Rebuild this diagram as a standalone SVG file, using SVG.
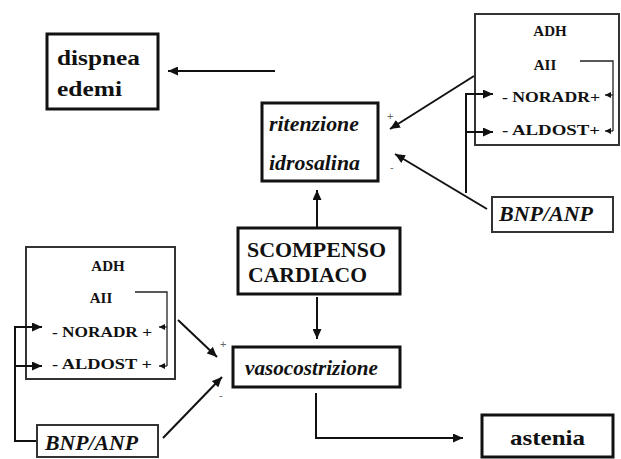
<svg xmlns="http://www.w3.org/2000/svg" width="621" height="459" viewBox="0 0 621 459">
<defs>
<marker id="ah" markerUnits="userSpaceOnUse" markerWidth="11" markerHeight="9" refX="10" refY="4.5" orient="auto">
<path d="M0,0 L10,4.5 L0,9 z" fill="#111"/>
</marker>
<marker id="ahs" markerUnits="userSpaceOnUse" markerWidth="7" markerHeight="6" refX="6" refY="3" orient="auto">
<path d="M0,0 L6,3 L0,6 z" fill="#111"/>
</marker>
</defs>
<style>
.box{fill:#fff;stroke:#111;stroke-width:3}
.thin{fill:#fff;stroke:#333;stroke-width:2}
.t{font-family:"Liberation Serif",serif;font-weight:bold;font-size:22px;fill:#111}
.ti{font-family:"Liberation Serif",serif;font-weight:bold;font-style:italic;font-size:22px;fill:#111}
.s{font-family:"Liberation Serif",serif;font-weight:bold;font-size:15px;fill:#111}
.sign{font-family:"Liberation Sans",sans-serif;font-size:11px;fill:#666}
.c{fill:none;stroke:#111;stroke-width:2}
.cs{fill:none;stroke:#222;stroke-width:1.3}
</style>
<rect width="621" height="459" fill="#fff"/>

<g id="connectors">
<line class="c" x1="275" y1="71" x2="168" y2="71" marker-end="url(#ah)"/>
<line class="c" x1="317" y1="228" x2="317" y2="190" marker-end="url(#ah)"/>
<line class="c" x1="317" y1="297" x2="317" y2="339" marker-end="url(#ah)"/>
<path class="c" d="M316,393 V438 H463" marker-end="url(#ah)"/>
<line class="c" x1="474" y1="76" x2="390" y2="129" marker-end="url(#ah)"/>
<line class="c" x1="487" y1="209" x2="395" y2="154" marker-end="url(#ah)"/>
<line class="c" x1="178" y1="320" x2="217" y2="357" marker-end="url(#ah)"/>
<line class="c" x1="163" y1="438" x2="222" y2="377" marker-end="url(#ah)"/>
</g>

<g id="dispnea">
<rect class="box" x="47" y="34" width="111" height="75"/>
<text class="t" x="57" y="65" textLength="83" lengthAdjust="spacingAndGlyphs">dispnea</text>
<text class="t" x="57" y="96" textLength="65" lengthAdjust="spacingAndGlyphs">edemi</text>
</g>

<g id="ritenzione">
<rect class="box" x="262" y="103" width="116" height="78"/>
<text class="ti" x="269" y="131" textLength="90" lengthAdjust="spacingAndGlyphs">ritenzione</text>
<text class="ti" x="269" y="170" textLength="91" lengthAdjust="spacingAndGlyphs">idrosalina</text>
</g>

<g id="ormoni-dx">
<rect class="thin" x="475" y="14" width="144" height="131"/>
<text class="s" x="550" y="36" text-anchor="middle">ADH</text>
<text class="s" x="545" y="70" text-anchor="middle">AII</text>
<text class="s" x="502" y="102" textLength="98" lengthAdjust="spacingAndGlyphs">- NORADR+</text>
<text class="s" x="502" y="135" textLength="98" lengthAdjust="spacingAndGlyphs">- ALDOST+</text>
<path class="cs" d="M580,61 H613 V131"/>
<line class="cs" x1="613" y1="95" x2="605" y2="95" marker-end="url(#ahs)"/>
<line class="cs" x1="613" y1="131" x2="605" y2="131" marker-end="url(#ahs)"/>
<path class="c" d="M466,193 V94 H493" marker-end="url(#ah)"/>
<line class="c" x1="466" y1="132" x2="493" y2="132" marker-end="url(#ah)"/>
</g>

<g id="bnp-dx">
<rect class="thin" x="492" y="197" width="121" height="35"/>
<text class="ti" x="499" y="221" textLength="94" lengthAdjust="spacingAndGlyphs">BNP/ANP</text>
</g>

<g id="scompenso">
<rect class="box" x="238" y="228" width="162" height="66"/>
<text class="t" x="247" y="257" textLength="139" lengthAdjust="spacingAndGlyphs">SCOMPENSO</text>
<text class="t" x="248" y="282" textLength="119" lengthAdjust="spacingAndGlyphs">CARDIACO</text>
</g>

<g id="ormoni-sx">
<rect class="thin" x="26" y="247" width="149" height="132"/>
<text class="s" x="108" y="271" text-anchor="middle">ADH</text>
<text class="s" x="101" y="303" text-anchor="middle">AII</text>
<text class="s" x="52" y="337" textLength="100" lengthAdjust="spacingAndGlyphs">- NORADR +</text>
<text class="s" x="52" y="369" textLength="100" lengthAdjust="spacingAndGlyphs">- ALDOST +</text>
<path class="cs" d="M135,292 H167 V366"/>
<line class="cs" x1="167" y1="327" x2="159" y2="327" marker-end="url(#ahs)"/>
<line class="cs" x1="167" y1="366" x2="159" y2="366" marker-end="url(#ahs)"/>
<path class="c" d="M37,441 H15 V327 H42" marker-end="url(#ah)"/>
<line class="c" x1="15" y1="366" x2="42" y2="366" marker-end="url(#ah)"/>
</g>

<g id="vasocostrizione">
<rect class="box" x="233" y="347" width="167" height="40"/>
<text class="ti" x="245" y="375" textLength="133" lengthAdjust="spacingAndGlyphs">vasocostrizione</text>
</g>

<g id="bnp-sx">
<rect class="thin" x="37" y="425" width="121" height="32"/>
<text class="ti" x="45" y="450" textLength="93" lengthAdjust="spacingAndGlyphs">BNP/ANP</text>
</g>

<g id="astenia">
<rect class="box" x="482" y="415" width="131" height="42"/>
<text class="t" x="510" y="445" textLength="75" lengthAdjust="spacingAndGlyphs">astenia</text>
</g>

<g id="segni">
<text class="sign" x="387" y="120">+</text>
<text class="sign" x="390" y="171">-</text>
<text class="sign" x="220" y="348">+</text>
<text class="sign" x="219" y="399">-</text>
</g>
</svg>
